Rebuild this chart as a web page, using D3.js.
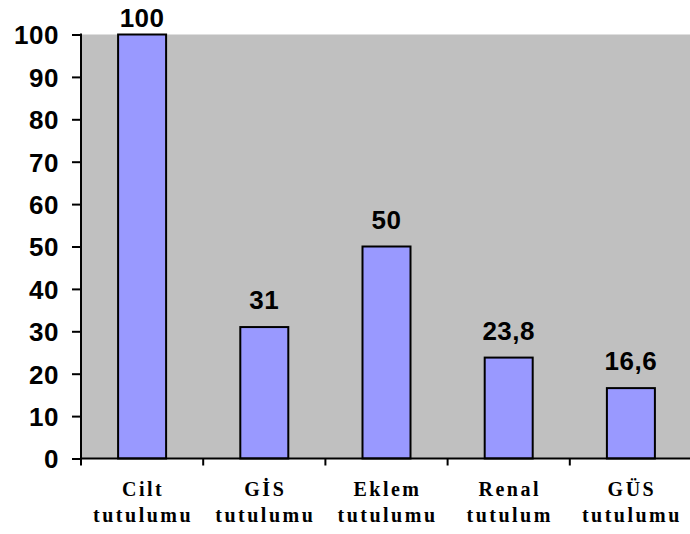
<!DOCTYPE html>
<html><head><meta charset="utf-8">
<script src="https://cdn.jsdelivr.net/npm/d3@7"></script>
<style>body{margin:0;background:#fff}svg{display:block}</style>
</head><body><svg id="c" width="690" height="534"></svg>
<script>
const categories = [["Cilt","tutulumu"],["GİS","tutulumu"],["Eklem","tutulumu"],["Renal","tutulum"],["GÜS","tutulumu"]];
const values = [100, 31, 50, 23.8, 16.6];
const valueLabels = ["100","31","50","23,8","16,6"];
const yTicks = [0,10,20,30,40,50,60,70,80,90,100];

(function(){
const svg = d3.select("#c");
const mLeft = 81, mRight = 692, mTop = 34.5, mBottom = 458.5;
const xb = d3.scaleBand().domain(d3.range(values.length)).range([mLeft, mRight]);
const y = d3.scaleLinear().domain([0,100]).range([mBottom, mTop]);

svg.append("rect").attr("x", mLeft).attr("y", mTop).attr("width", 690-mLeft).attr("height", mBottom-mTop).attr("fill", "#C0C0C0");

svg.selectAll("rect.bar").data(values).join("rect").attr("class","bar")
  .attr("x", (d,i)=>xb(i)+xb.bandwidth()/2-24).attr("width", 48)
  .attr("y", d=>y(d)).attr("height", d=>y(0)-y(d))
  .attr("fill", "#9999FF").attr("stroke", "#000").attr("stroke-width", 2);

svg.selectAll("text.val").data(values).join("text").attr("class","val")
  .attr("x", (d,i)=>xb(i)+xb.bandwidth()/2)
  .attr("y", d=>Math.max(y(d)-18, 27))
  .attr("text-anchor","middle")
  .attr("font-family","Liberation Sans, Arial, sans-serif").attr("font-weight","bold").attr("font-size", 26)
  .style("letter-spacing","0.5px")
  .text((d,i)=>valueLabels[i]);

const ya = svg.append("g").attr("transform", `translate(${mLeft},0)`)
  .call(d3.axisLeft(y).tickValues(yTicks).tickSize(9).tickPadding(13));
ya.select(".domain").remove();
ya.selectAll("line").attr("stroke","#000").attr("stroke-width",2);
ya.selectAll("text").attr("font-family","Liberation Sans, Arial, sans-serif").attr("font-weight","bold").attr("font-size",26).attr("fill","#000").style("letter-spacing","0.5px").attr("dy","0.36em");
svg.append("line").attr("x1",mLeft).attr("x2",mLeft).attr("y1",mTop-1).attr("y2",mBottom+6).attr("stroke","#000").attr("stroke-width",2);

svg.append("line").attr("x1",mLeft).attr("x2",690).attr("y1",mBottom).attr("y2",mBottom).attr("stroke","#000").attr("stroke-width",2);
const bounds = d3.range(values.length+1).map(i=> i<values.length ? xb(i) : xb(i-1)+xb.bandwidth());
svg.selectAll("line.xt").data(bounds).join("line").attr("class","xt")
  .attr("x1",d=>d).attr("x2",d=>d).attr("y1",mBottom).attr("y2",mBottom+7).attr("stroke","#000").attr("stroke-width",2);

const cl = svg.selectAll("text.cat").data(categories).join("text").attr("class","cat")
  .attr("text-anchor","middle")
  .attr("font-family","Liberation Serif, Times New Roman, serif").attr("font-weight","bold").attr("font-size",20)
  .style("letter-spacing","2.5px");
cl.each(function(d,i){
  const t = d3.select(this); const cx = xb(i)+xb.bandwidth()/2 + 1;
  d.forEach((s,j)=> t.append("tspan").attr("x",cx).attr("y", 496 + j*26).text(s));
});
})();
</script></body></html>
